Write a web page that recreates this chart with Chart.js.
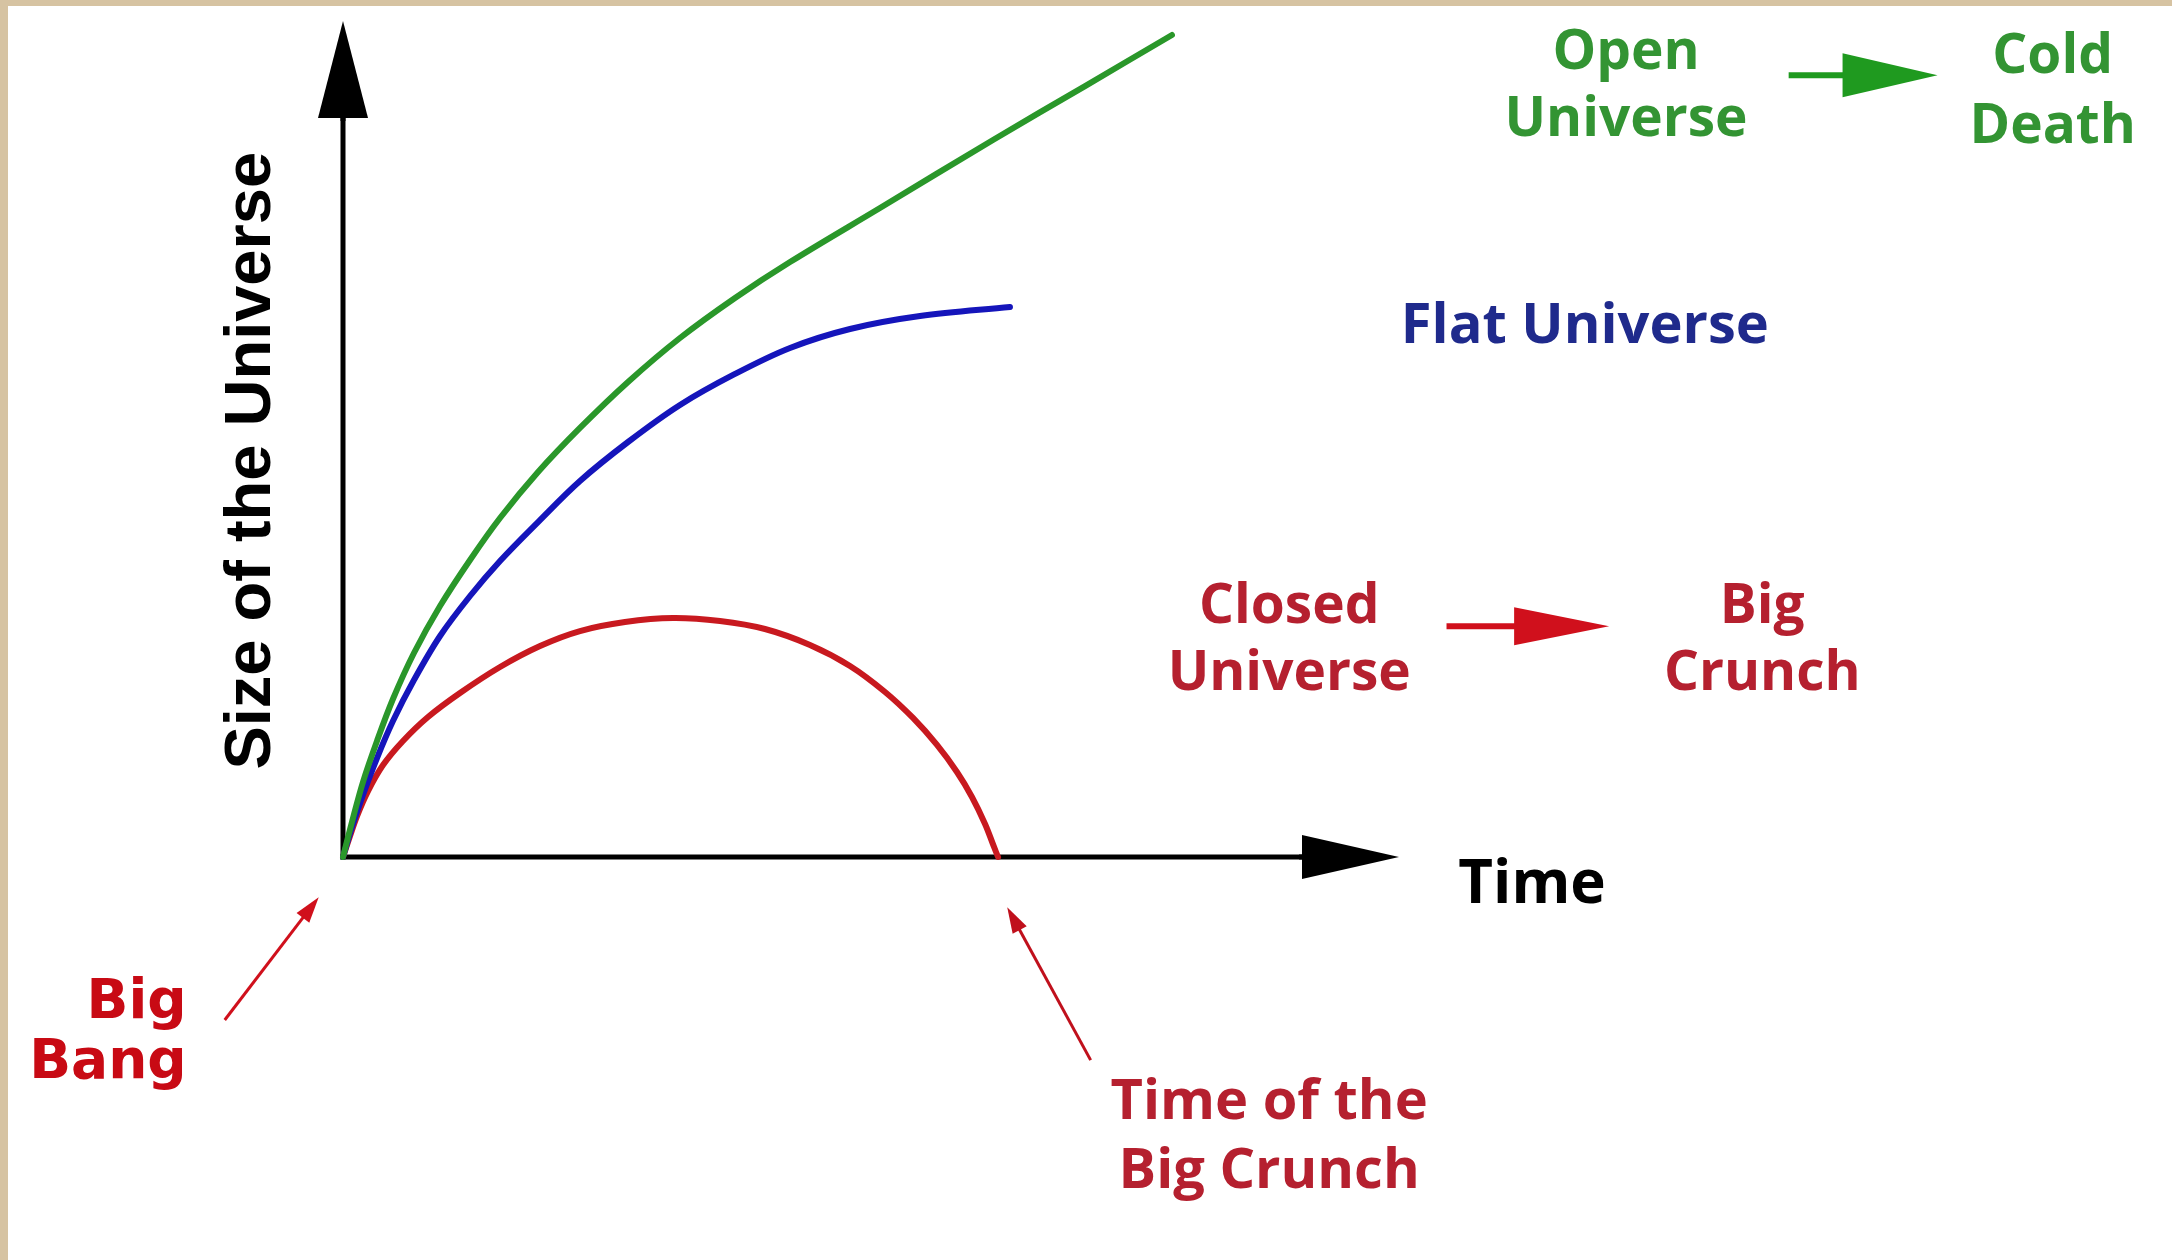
<!DOCTYPE html>
<html>
<head>
<meta charset="utf-8">
<script src="https://cdn.jsdelivr.net/npm/chart.js@4"></script>
<style>
  html, body { margin: 0; padding: 0; background: #ffffff; }
  #wrap { position: relative; width: 2172px; height: 1260px; }
</style>
</head>
<body>
<div id="wrap"><canvas id="c"></canvas></div>
<script>
// ---- Data (time, size) ----
const openTime   = [0, 0.085, 0.189, 0.322, 0.473, 0.672, 0.919, 1.203, 1.487, 1.847, 2.244, 2.699, 3.191, 3.712, 4.233, 5.085, 6.155, 7.027, 7.850];
const openSize   = [0, 0.419, 0.897, 1.388, 1.890, 2.440, 3.002, 3.553, 4.055, 4.605, 5.132, 5.682, 6.208, 6.687, 7.117, 7.763, 8.577, 9.222, 9.833];

const flatTime   = [0, 0.085, 0.189, 0.322, 0.473, 0.672, 0.919, 1.203, 1.487, 1.847, 2.244, 2.699, 3.191, 3.712, 4.233, 4.801, 5.464, 6.316];
const flatSize   = [0, 0.359, 0.742, 1.184, 1.627, 2.117, 2.644, 3.122, 3.541, 4.007, 4.498, 4.964, 5.407, 5.778, 6.089, 6.316, 6.471, 6.579];

const closedTime = [0, 0.057, 0.133, 0.237, 0.379, 0.568, 0.805, 1.108, 1.487, 1.866, 2.244, 2.670, 3.125, 3.570, 3.996, 4.422, 4.801, 5.133, 5.398, 5.625, 5.814, 5.956, 6.080, 6.165, 6.203];
const closedSize = [0, 0.215, 0.490, 0.789, 1.100, 1.388, 1.675, 1.962, 2.273, 2.524, 2.703, 2.811, 2.859, 2.823, 2.727, 2.536, 2.285, 1.974, 1.663, 1.340, 1.017, 0.718, 0.395, 0.120, 0];

const seriesNames = ['Open Universe', 'Flat Universe', 'Closed Universe'];
const axisTitles  = { x: 'Time', y: 'Size of the Universe' };

function pts(xs, ys) { return xs.map((x, i) => ({ x: x, y: ys[i] })); }

// ---- Annotations (anchor in data units) ----
const FONT_C = "'Open Sans', 'DejaVu Sans', sans-serif";
const FONT_V = "'DejaVu Sans', Verdana, sans-serif";
const labels = [
  { lines: ['Open', 'Universe'], x: 12.15, y: 9.43, color: '#339433', size: 55, lh: 67, align: 'center', font: FONT_C },
  { lines: ['Cold', 'Death'],    x: 16.19, y: 9.38, color: '#339433', size: 55, lh: 70, align: 'center', font: FONT_C },
  { lines: ['Flat Universe'],    x: 11.76, y: 6.15, color: '#1f2a8c', size: 56, lh: 67, align: 'center', font: FONT_C },
  { lines: ['Closed', 'Universe'], x: 8.96, y: 2.80, color: '#b5202f', size: 55, lh: 67, align: 'center', font: FONT_C },
  { lines: ['Big', 'Crunch'],    x: 13.44, y: 2.80, color: '#b5202f', size: 55, lh: 67, align: 'center', font: FONT_C },
  { lines: ['Time of the', 'Big Crunch'], x: 8.77, y: -3.13, color: '#b5202f', size: 56, lh: 69, align: 'center', font: FONT_C },
  { lines: ['Big', 'Bang'],      x: -1.48, y: -1.93, color: '#c80a14', size: 55, lh: 60, align: 'right', font: FONT_V },
  { lines: [axisTitles.x],       x: 11.26, y: -0.55, color: '#000000', size: 60, lh: 60, align: 'center', font: FONT_C }
];
const arrows = [
  { from: [13.69, 9.35], to: [15.10, 9.35], color: '#1f9a1f', width: 6, head: 95, half: 22 },
  { from: [10.45, 2.76], to: [11.99, 2.76], color: '#d0101c', width: 6, head: 95, half: 19 },
  { from: [-1.12, -1.95], to: [-0.23, -0.48], color: '#d0101c', width: 3, head: 26, half: 8 },
  { from: [7.08, -2.43], to: [6.29, -0.60], color: '#c0101c', width: 3, head: 26, half: 8 }
];

function drawArrow(ctx, x1, y1, x2, y2, color, width, head, half) {
  const ang = Math.atan2(y2 - y1, x2 - x1);
  const bx = x2 - head * Math.cos(ang), by = y2 - head * Math.sin(ang);
  ctx.save();
  ctx.strokeStyle = color; ctx.fillStyle = color; ctx.lineWidth = width;
  ctx.beginPath(); ctx.moveTo(x1, y1); ctx.lineTo(bx + Math.cos(ang) * 2, by + Math.sin(ang) * 2); ctx.stroke();
  ctx.beginPath();
  ctx.moveTo(x2, y2);
  ctx.lineTo(bx + half * Math.sin(ang), by - half * Math.cos(ang));
  ctx.lineTo(bx - half * Math.sin(ang), by + half * Math.cos(ang));
  ctx.closePath(); ctx.fill();
  ctx.restore();
}

const decor = {
  id: 'decor',
  beforeDraw(chart) {
    const ctx = chart.ctx;
    ctx.save();
    ctx.fillStyle = '#ffffff';
    ctx.fillRect(0, 0, chart.width, chart.height);
    ctx.fillStyle = '#d6c3a2';
    ctx.fillRect(0, 0, chart.width, 6);
    ctx.fillRect(0, 0, 8, chart.height);
    ctx.restore();
  },
  beforeDatasetsDraw(chart) {
    const ctx = chart.ctx, xs = chart.scales.x, ys = chart.scales.y;
    const ox = xs.getPixelForValue(0), oy = ys.getPixelForValue(0);
    const xt = xs.getPixelForValue(xs.max), yt = ys.getPixelForValue(ys.max);
    ctx.save();
    ctx.strokeStyle = '#000'; ctx.fillStyle = '#000'; ctx.lineWidth = 5; ctx.lineCap = 'square';
    ctx.beginPath(); ctx.moveTo(ox, oy); ctx.lineTo(xt - 95, oy); ctx.stroke();
    ctx.beginPath(); ctx.moveTo(ox, oy); ctx.lineTo(ox, yt + 95); ctx.stroke();
    ctx.restore();
    drawArrow(ctx, xt - 100, oy, xt, oy, '#000', 5, 97, 22);
    drawArrow(ctx, ox, yt + 100, ox, yt, '#000', 5, 97, 25);
  },
  afterDatasetsDraw(chart) {
    const ctx = chart.ctx, xs = chart.scales.x, ys = chart.scales.y;
    ctx.save();
    labels.forEach(l => {
      ctx.font = 'bold ' + l.size + 'px ' + l.font;
      ctx.fillStyle = l.color;
      ctx.textAlign = l.align;
      ctx.textBaseline = 'alphabetic';
      const px = xs.getPixelForValue(l.x), py = ys.getPixelForValue(l.y);
      l.lines.forEach((t, i) => ctx.fillText(t, px, py + i * l.lh));
    });
    ctx.save();
    ctx.translate(xs.getPixelForValue(-0.86), ys.getPixelForValue(4.74));
    ctx.rotate(-Math.PI / 2);
    ctx.font = "bold 65px 'Liberation Sans', Arial, sans-serif";
    ctx.fillStyle = '#000';
    ctx.textAlign = 'center';
    ctx.textBaseline = 'middle';
    ctx.fillText(axisTitles.y, 0, 0);
    ctx.restore();
    ctx.restore();
    arrows.forEach(a => drawArrow(ctx,
      xs.getPixelForValue(a.from[0]), ys.getPixelForValue(a.from[1]),
      xs.getPixelForValue(a.to[0]), ys.getPixelForValue(a.to[1]),
      a.color, a.width, a.head, a.half));
  }
};

new Chart(document.getElementById('c'), {
  type: 'line',
  data: {
    datasets: [
      { label: seriesNames[0], data: pts(openTime, openSize), borderColor: '#2a972a', borderWidth: 6 },
      { label: seriesNames[1], data: pts(flatTime, flatSize), borderColor: '#1515bb', borderWidth: 6 },
      { label: seriesNames[2], data: pts(closedTime, closedSize), borderColor: '#c8191f', borderWidth: 6 }
    ]
  },
  options: {
    responsive: true,
    maintainAspectRatio: false,
    animation: false,
    elements: { point: { radius: 0, hoverRadius: 0 }, line: { tension: 0.35, fill: false, borderCapStyle: 'round', borderJoinStyle: 'round' } },
    layout: { padding: { left: 343, right: 773, top: 21, bottom: 403 } },
    scales: {
      x: { type: 'linear', min: 0, max: 10, display: false },
      y: { type: 'linear', min: 0, max: 10, display: false }
    },
    plugins: { legend: { display: false }, tooltip: { enabled: false } },
    clip: false
  },
  plugins: [decor]
});
</script>
</body>
</html>
